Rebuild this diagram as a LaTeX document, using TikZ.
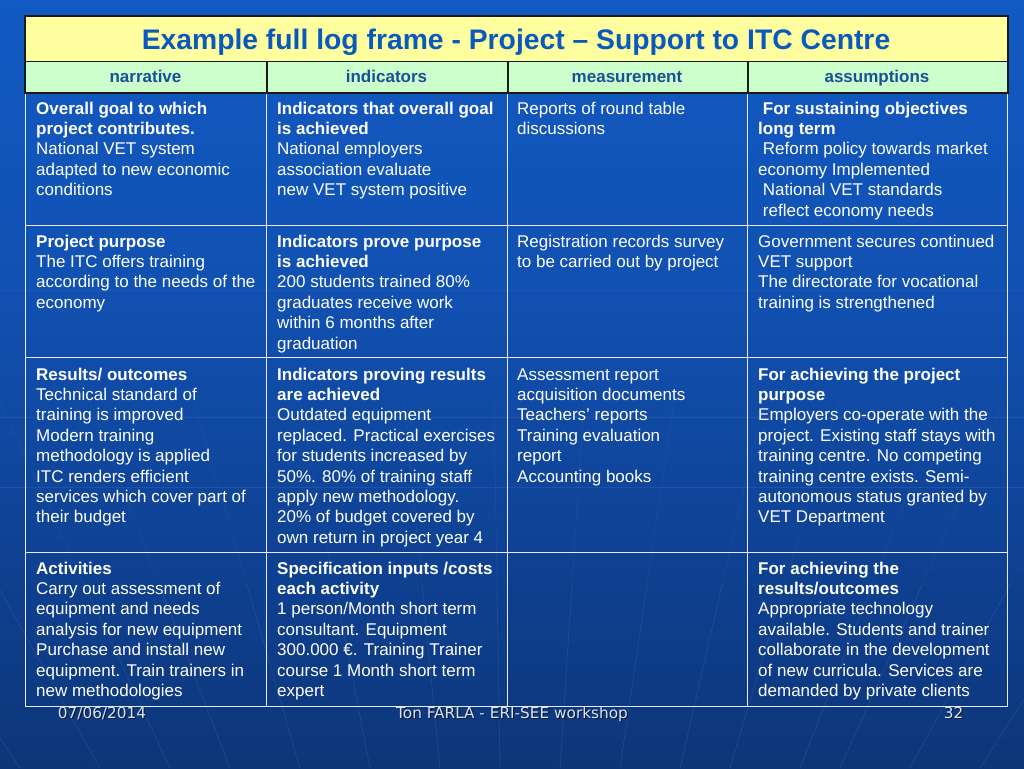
\documentclass[tikz,border=0pt]{standalone}
\usepackage{fontspec}
\setmainfont{Liberation Sans}
\newfontfamily\footfont{DejaVu Sans}
\definecolor{titlebg}{HTML}{FFFFA0}
\definecolor{titletext}{HTML}{0A5ABE}
\definecolor{headbg}{HTML}{CCFFCC}
\definecolor{headtext}{HTML}{1A5096}
\definecolor{framedark}{HTML}{1A1A1A}
\definecolor{foottext}{HTML}{DCE2EE}
\pgfdeclareverticalshading{bgsh}{100bp}{%
  color(0bp)=(rgb,255:red,9;green,36;blue,80);
  color(15bp)=(rgb,255:red,11;green,46;blue,102);
  color(35bp)=(rgb,255:red,14;green,62;blue,140);
  color(55bp)=(rgb,255:red,17;green,80;blue,176);
  color(75bp)=(rgb,255:red,18;green,90;blue,196);
  color(100bp)=(rgb,255:red,12;green,92;blue,198)}
\tikzset{
  titlecell/.style={draw=framedark, line width=1.2pt, fill=titlebg, rectangle, inner sep=0pt, anchor=north west},
  headcell/.style={draw=framedark, line width=1pt, fill=headbg, rectangle, inner sep=0pt, anchor=north west},
  bodycell/.style={draw=white!92!blue, line width=1.4pt, rectangle, inner sep=0pt, anchor=north west},
  celltext/.style={anchor=base west, inner sep=0pt, text=white},
  headtxt/.style={text=headtext, font=\fontsize{17}{20}\selectfont\bfseries, inner sep=0pt, anchor=base},
  foot/.style={text=foottext, inner sep=0pt, anchor=base, font=\footfont\fontsize{15.3}{18}\selectfont},
  footshadow/.style={foot, text=black, opacity=0.55},
  bgline/.style={white, opacity=0.07, line width=0.8pt},
  bglinefaint/.style={white, opacity=0.035, line width=0.8pt}
}
\newcommand{\celltxt}[2]{\parbox[t]{#1pt}{\fontsize{17}{20.4}\selectfont\raggedright #2}}
\begin{document}
\begin{tikzpicture}[x=1pt,y=-1pt]
\useasboundingbox (0,0) rectangle (1024,768);
\shade[shading=bgsh] (0,0) rectangle (1024,768);
% faint background lines
\draw[bgline] (0,417) -- (1024,417);
\draw[bgline] (0,487) -- (1024,487);
\draw[bglinefaint] (0,290) -- (1024,290);
\foreach \x in {-140,-60,20,100,170,230,300,370,440,500,560,620,680,730,800,840,910,980,1060,1140}{
  \draw[bgline] (\x,768) -- ({512+(\x-512)*1.25},585);
  \draw[bglinefaint] ({512+(\x-512)*1.25},585) -- ({512+(\x-512)*1.5},400);
}
% title
\node[titlecell, minimum width=982pt, minimum height=45pt] (title) at (25,16) {};
\node[text=titletext, font=\fontsize{28.3}{32}\selectfont\bfseries, anchor=base, inner sep=0pt] (titletxt) at (516,49.5) {Example full log frame - Project – Support to ITC Centre};
% header
\node[headcell, minimum width=241pt, minimum height=31pt] (h1) at (25,61) {};
\node[headcell, minimum width=241pt, minimum height=31pt] (h2) at (266,61) {};
\node[headcell, minimum width=240pt, minimum height=31pt] (h3) at (507,61) {};
\node[headcell, minimum width=260pt, minimum height=31pt] (h4) at (747,61) {};
\node[headtxt] (h1t) at (145.5,82.7) {narrative};
\node[headtxt] (h2t) at (386.5,82.7) {indicators};
\node[headtxt] (h3t) at (627,82.7) {measurement};
\node[headtxt] (h4t) at (877,82.7) {assumptions};
% body cells
\foreach \r/\y/\h in {1/92/133, 2/225/132, 3/357/195, 4/552/154}{
  \node[bodycell, minimum width=241pt, minimum height=\h pt] (c\r1) at (25,\y) {};
  \node[bodycell, minimum width=241pt, minimum height=\h pt] (c\r2) at (266,\y) {};
  \node[bodycell, minimum width=240pt, minimum height=\h pt] (c\r3) at (507,\y) {};
  \node[bodycell, minimum width=260pt, minimum height=\h pt] (c\r4) at (747,\y) {};
}
% re-stroke header frame on top
\draw[framedark, line width=1.2pt] (title.north west) rectangle (h4.south east);
\draw[framedark, line width=1pt] (h1.north east) -- (h1.south east);
\draw[framedark, line width=1pt] (h2.north east) -- (h2.south east);
\draw[framedark, line width=1pt] (h3.north east) -- (h3.south east);
% row 1
\node[celltext] (t11) at ([xshift=11pt,yshift=-22pt]c11.north west) {\celltxt{235}{\textbf{Overall goal to which}\\\textbf{project contributes.}\\National VET system\\adapted to new economic\\conditions}};
\node[celltext] (t12) at ([xshift=11pt,yshift=-22pt]c12.north west) {\celltxt{235}{\textbf{Indicators that overall goal}\\\textbf{is achieved}\\National employers\\association evaluate\\new VET system positive}};
\node[celltext] (t13) at ([xshift=10pt,yshift=-22pt]c13.north west) {\celltxt{235}{Reports of round table\\discussions}};
\node[celltext] (t14) at ([xshift=11pt,yshift=-22pt]c14.north west) {\celltxt{255}{\ \textbf{For sustaining objectives}\\\textbf{long term}\\\ Reform policy towards market\\economy Implemented\\\ National VET standards\\\ reflect economy needs}};
% row 2
\node[celltext] (t21) at ([xshift=11pt,yshift=-22pt]c21.north west) {\celltxt{235}{\textbf{Project purpose}\\The ITC offers training\\according to the needs of the\\economy}};
\node[celltext] (t22) at ([xshift=11pt,yshift=-22pt]c22.north west) {\celltxt{235}{\textbf{Indicators prove purpose}\\\textbf{is achieved}\\200 students trained 80\%\\graduates receive work\\within 6 months after\\graduation}};
\node[celltext] (t23) at ([xshift=10pt,yshift=-22pt]c23.north west) {\celltxt{235}{Registration records survey\\to be carried out by project}};
\node[celltext] (t24) at ([xshift=11pt,yshift=-22pt]c24.north west) {\celltxt{255}{Government secures continued\\VET support\\The directorate for vocational\\training is strengthened}};
% row 3
\node[celltext] (t31) at ([xshift=11pt,yshift=-23pt]c31.north west) {\celltxt{235}{\textbf{Results/ outcomes}\\Technical standard of\\training is improved\\Modern training\\methodology is applied\\ITC renders efficient\\services which cover part of\\their budget}};
\node[celltext] (t32) at ([xshift=11pt,yshift=-23pt]c32.north west) {\celltxt{235}{\textbf{Indicators proving results}\\\textbf{are achieved}\\Outdated equipment\\replaced. Practical exercises\\for students increased by\\50\%. 80\% of training staff\\apply new methodology.\\20\% of budget covered by\\own return in project year 4}};
\node[celltext] (t33) at ([xshift=10pt,yshift=-23pt]c33.north west) {\celltxt{235}{Assessment report\\acquisition documents\\Teachers' reports\\Training evaluation\\report\\Accounting books}};
\node[celltext] (t34) at ([xshift=11pt,yshift=-23pt]c34.north west) {\celltxt{255}{\textbf{For achieving the project}\\\textbf{purpose}\\Employers co-operate with the\\project. Existing staff stays with\\training centre. No competing\\training centre exists. Semi-\\autonomous status granted by\\VET Department}};
% row 4
\node[celltext] (t41) at ([xshift=11pt,yshift=-22pt]c41.north west) {\celltxt{235}{\textbf{Activities}\\Carry out assessment of\\equipment and needs\\analysis for new equipment\\Purchase and install new\\equipment. Train trainers in\\new methodologies}};
\node[celltext] (t42) at ([xshift=11pt,yshift=-22pt]c42.north west) {\celltxt{235}{\textbf{Specification inputs /costs}\\\textbf{each activity}\\1 person/Month short term\\consultant. Equipment\\300.000 €. Training Trainer\\course 1 Month short term\\expert}};
\node[celltext] (t44) at ([xshift=11pt,yshift=-22pt]c44.north west) {\celltxt{255}{\textbf{For achieving the}\\\textbf{results/outcomes}\\Appropriate technology\\available. Students and trainer\\collaborate in the development\\of new curricula. Services are\\demanded by private clients}};
% footer
\node[footshadow] at (103.2,719.2) {07/06/2014};
\node[foot] (f1) at (102,718) {07/06/2014};
\node[footshadow] at (513.2,719.2) {Ton FARLA - ERI-SEE workshop};
\node[foot] (f2) at (512,718) {Ton FARLA - ERI-SEE workshop};
\node[footshadow] at (954.7,719.2) {32};
\node[foot] (f3) at (953.5,718) {32};
\end{tikzpicture}
\end{document}
